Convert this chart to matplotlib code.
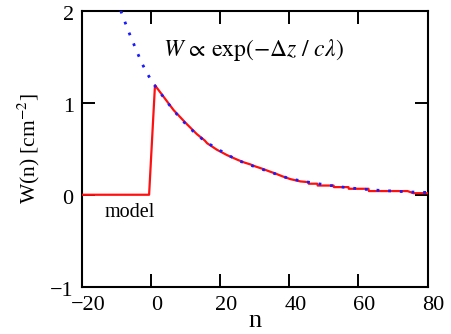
import matplotlib
matplotlib.use("Agg")
import numpy as np
from matplotlib import pyplot as plt
from matplotlib import transforms

# model W(n)
model_n = [-20, -0.6, 1.1, 3.5, 6.5, 10, 13.2, 15.5, 16.2, 19, 22, 25, 27, 28.7,
           30, 32, 34.5, 36, 38, 40.3, 43.2, 45.5, 45.6, 48.1, 48.2, 52.8, 52.9,
           57.1, 57.2, 62.9, 63.0, 74.2, 75.9, 80]
model_w = [0, 0, 1.19, 1.07, 0.92, 0.78, 0.66, 0.59, 0.56, 0.49, 0.43, 0.38, 0.35, 0.33,
           0.31, 0.285, 0.25, 0.23, 0.20, 0.17, 0.145, 0.137, 0.12, 0.12, 0.10, 0.10, 0.083,
           0.083, 0.065, 0.065, 0.04, 0.04, 0.017, 0.017]

# exponential fit
fit_n = [-8.8, -6.6, -4.5, -2.7, -1, 0.2, 2, 4, 6, 8, 10, 13, 16, 20, 25, 30,
         35, 40, 45, 50, 55, 60, 65, 70, 75, 80]
fit_w = [2.0, 1.78, 1.59, 1.43, 1.31, 1.23, 1.14, 1.04, 0.94, 0.85, 0.77, 0.66, 0.57,
         0.48, 0.375, 0.305, 0.24, 0.175, 0.14, 0.11, 0.085, 0.065, 0.05, 0.04, 0.03, 0.025]

x_ticks = [-20, 0, 20, 40, 60, 80]
y_ticks = [-1, 0, 1, 2]

plt.rcParams["font.family"] = ["Liberation Serif", "DejaVu Serif"]
plt.rcParams["mathtext.fontset"] = "stix"

fig = plt.figure(figsize=(4.51, 3.34), dpi=100)
ax = fig.add_axes([0.182, 0.1416, 0.766, 0.826])

ax.plot(model_n, model_w, color="#ff1010", lw=1.6, zorder=3)
ax.plot(fit_n, fit_w, color="#1a1aff", lw=2.0, linestyle=(0, (1, 3.2)), zorder=4)

ax.set_xlim(-20, 80)
ax.set_ylim(-1, 2)
ax.set_xticks(x_ticks)
ax.set_yticks(y_ticks)
ax.tick_params(direction="in", length=9.5, width=1.4, top=True, right=True,
               labelsize=16)
ax.tick_params(axis="x", pad=7)
ax.tick_params(axis="y", pad=6)
for s in ax.spines.values():
    s.set_linewidth(1.5)

# the tick labels in the reference sit a little right / below their ticks
dx = transforms.ScaledTranslation(6 / 100, 0, fig.dpi_scale_trans)
dy = transforms.ScaledTranslation(0, -2.5 / 100, fig.dpi_scale_trans)
for lab in ax.get_xticklabels():
    lab.set_transform(lab.get_transform() + dx)
for lab in ax.get_yticklabels():
    lab.set_transform(lab.get_transform() + dy)

ax.text(29.6, 1.57, r"$W\,\propto\,\mathrm{exp}(-\Delta z\ /\ c\lambda)$",
        ha="center", va="center", fontsize=17)
ax.text(-6.1, -0.19, "model", ha="center", va="center", fontsize=14.5)

ax.set_xlabel("n", fontsize=19, labelpad=-4)
ax.set_ylabel(r"W(n) [cm$^{-2}$]", fontsize=15.5, labelpad=6)

fig.savefig("out.png", dpi=100)
